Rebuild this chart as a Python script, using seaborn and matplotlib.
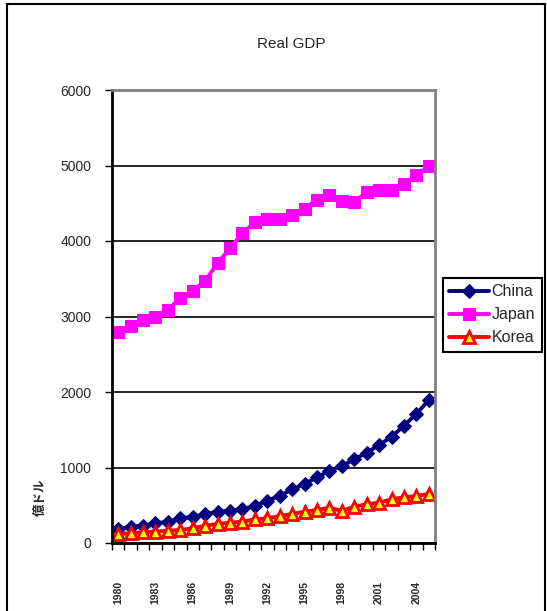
import matplotlib
matplotlib.use("Agg")
import matplotlib.pyplot as plt
import seaborn as sns
import pandas as pd
import numpy as np
from matplotlib.patches import Rectangle

years = list(range(1980, 2006))
china = [185, 216, 229, 260, 282, 327, 348, 380, 415, 428, 450, 490, 560, 626,
         711, 781, 870, 958, 1020, 1109, 1196, 1298, 1408, 1554, 1709, 1894]
japan = [2792, 2872, 2951, 3000, 3089, 3248, 3344, 3473, 3706, 3904, 4103, 4249, 4287,
         4297, 4350, 4430, 4548, 4605, 4526, 4517, 4649, 4671, 4671, 4760, 4870, 4993]
korea = [119, 128, 142, 150, 163, 172, 195, 229, 252, 269, 282, 314, 327, 358,
         384, 415, 437, 468, 424, 481, 513, 534, 579, 605, 623, 649]
year_labels = [str(y) for y in years[::3]]
y_ticks = [0, 1000, 2000, 3000, 4000, 5000, 6000]

sns.set_theme(style="white")
plt.rcParams["font.family"] = ["Liberation Sans", "Noto Sans CJK JP", "DejaVu Sans"]

df = pd.DataFrame({"pos": np.arange(len(years)), "China": china, "Japan": japan, "Korea": korea})

fig = plt.figure(figsize=(5.47, 6.11), dpi=100)
ax = fig.add_axes([112 / 547, 1 - 543 / 611, 323 / 547, 453 / 611])

styles = {
    "China": dict(color="#000080", marker="D", markersize=7.5, markerfacecolor="#000080",
                  markeredgecolor="#000080"),
    "Japan": dict(color="#FF00FF", marker="s", markersize=9, markerfacecolor="#FF00FF",
                  markeredgecolor="#FF00FF"),
    "Korea": dict(color="#FF0000", marker="^", markersize=8.5, markerfacecolor="#FFFF00",
                  markeredgecolor="#FF0000", markeredgewidth=2),
}
for name in ["China", "Japan", "Korea"]:
    sns.lineplot(data=df, x="pos", y=name, ax=ax, label=name, linewidth=2.8, **styles[name])

ax.set_xlim(-0.5, len(years) - 0.5)
ax.set_ylim(0, 6000)
ax.set_yticks(y_ticks)
ax.set_yticklabels([str(v) for v in y_ticks], fontsize=10)
ax.yaxis.grid(True, color="black", linewidth=1.2)
ax.xaxis.grid(False)
ax.tick_params(axis="y", direction="out", length=5, width=1, color="black", pad=10, left=True)

# category labels every three years, boundary tick marks between categories
ax.set_xticks(np.arange(0, len(years), 3))
ax.set_xticklabels(year_labels, rotation=90, fontsize=7.5, fontweight="bold")
ax.tick_params(axis="x", which="major", length=0, pad=27)
ax.set_xticks(np.arange(-0.5, len(years), 1), minor=True)
ax.tick_params(axis="x", which="minor", direction="out", length=5, width=1, color="black", bottom=True)
ax.set_xlabel("")
ax.set_ylabel("")

for side in ["left", "bottom"]:
    ax.spines[side].set_color("black")
    ax.spines[side].set_linewidth(2)
for side in ["top", "right"]:
    ax.spines[side].set_color("#808080")
    ax.spines[side].set_linewidth(2)

leg = ax.legend(loc="upper left", bbox_to_anchor=(443 / 547, 1 - 278 / 611),
                bbox_transform=fig.transFigure, fontsize=11.5, frameon=True, fancybox=False,
                framealpha=1, handlelength=2.45, handletextpad=0.2, borderpad=0.4,
                labelspacing=0.5, borderaxespad=0)
leg.get_frame().set_edgecolor("black")
leg.get_frame().set_linewidth(1.5)

fig.text(291 / 547, 1 - 44 / 611, "Real GDP", ha="center", va="center", fontsize=11)
fig.text(41 / 547, 1 - 497 / 611, "億ドル", ha="center", va="center", fontsize=9,
         fontweight="bold", rotation=90)

fig.patches.append(Rectangle((7 / 547, -0.01), 538 / 547, 1 - 4 / 611 + 0.01,
                             transform=fig.transFigure, fill=False, edgecolor="black",
                             linewidth=1.5))

fig.savefig("out.png", dpi=100)
